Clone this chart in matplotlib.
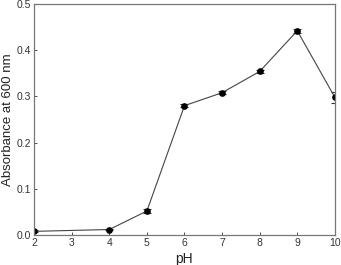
import matplotlib.pyplot as plt

plt.rcParams['font.family'] = ['Liberation Sans', 'DejaVu Sans']

ph = [2, 4, 5, 6, 7, 8, 9, 10]
absorbance = [0.008, 0.012, 0.052, 0.280, 0.308, 0.354, 0.442, 0.298]
err = [0.002, 0.002, 0.005, 0.004, 0.003, 0.003, 0.004, 0.012]

fig = plt.figure(figsize=(3.41, 2.65), dpi=100)
ax = fig.add_axes([0.1, 0.113, 0.882, 0.872])

ax.errorbar(ph, absorbance, yerr=err, color='#444444', lw=0.8,
            marker='o', ms=3.8, mfc='black', mec='black',
            ecolor='#333333', elinewidth=0.8, capsize=3, capthick=0.8)

ax.set_xlim(2, 10)
ax.set_ylim(0, 0.5)
ax.set_xticks(range(2, 11))
ax.set_yticks([0.0, 0.1, 0.2, 0.3, 0.4, 0.5])
ax.set_yticklabels(['0.0', '0.1', '0.2', '0.3', '0.4', '0.5'])
ax.tick_params(direction='in', length=2.5, width=0.6, labelsize=7.5,
               colors='#333333', pad=2)
for s in ax.spines.values():
    s.set_color('#777777')
    s.set_linewidth(0.9)

ax.set_xlabel('pH', fontsize=10, labelpad=3, color='#222222')
ax.set_ylabel('Absorbance at 600 nm', fontsize=9.5, labelpad=2, color='#222222')

fig.savefig('out.png', dpi=100)
